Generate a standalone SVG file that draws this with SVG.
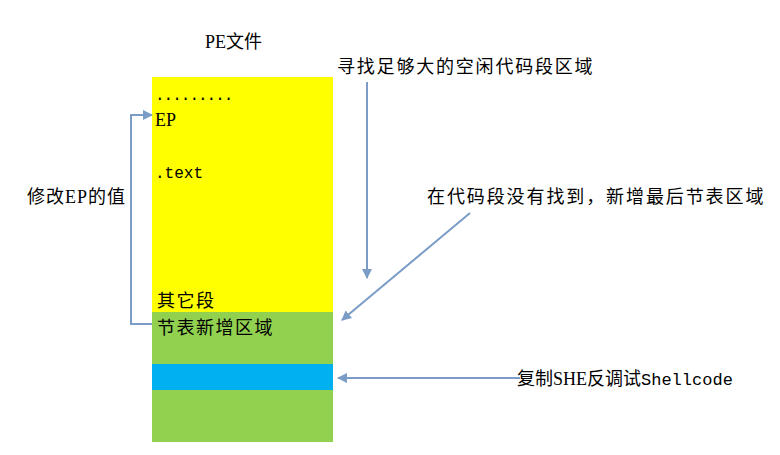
<svg xmlns="http://www.w3.org/2000/svg" width="780" height="455" viewBox="0 0 780 455">
<style>
.t{font-family:"Liberation Serif","Noto Sans CJK SC",serif;font-size:18px;fill:#000}
.m{font-family:"Liberation Mono","Noto Sans CJK SC",monospace;font-size:16px;fill:#000}
.c{fill:none;stroke:#7A9CC6;stroke-width:2}
</style>
<defs>
<marker id="ah" viewBox="0 0 10 10" refX="9" refY="5" markerWidth="5" markerHeight="5" orient="auto" markerUnits="strokeWidth">
<path d="M0,0 L10,5 L0,10 z" fill="#7A9CC6"/>
</marker>
</defs>
<rect width="780" height="455" fill="#fff"/>
<g id="pe">
<rect x="152" y="77" width="181" height="235" fill="#FFFF00"/>
<rect x="152" y="312" width="181" height="130" fill="#92D050"/>
<rect x="152" y="364" width="181" height="26" fill="#00B0F0"/>
<text class="t" x="205" y="48" font-size="17">PE文件</text>
<text class="m" x="155" y="100" letter-spacing="-1">.........</text>
<text class="t" x="155" y="126">EP</text>
<text class="m" x="155" y="178">.text</text>
<text class="t" x="157" y="307" letter-spacing="1.5">其它段</text>
<text class="t" x="157" y="334" letter-spacing="1.5">节表新增区域</text>
</g>
<g id="labels">
<text class="t" x="27" y="203" letter-spacing="1">修改EP的值</text>
<text class="t" x="337" y="73" letter-spacing="1.8">寻找足够大的空闲代码段区域</text>
<text class="t" x="427" y="203" letter-spacing="1.9">在代码段没有找到，新增最后节表区域</text>
<text class="t" x="517" y="385">复制SHE反调试<tspan font-family="Liberation Mono,monospace" font-size="17">Shellcode</tspan></text>
</g>
<g id="connectors">
<path class="c" d="M152,324 H131 V115 H152" marker-end="url(#ah)"/>
<path class="c" d="M367,82 V278" marker-end="url(#ah)"/>
<path class="c" d="M470,213 L342,320" marker-end="url(#ah)"/>
<path class="c" d="M520,378 H338" marker-end="url(#ah)"/>
</g>
</svg>
